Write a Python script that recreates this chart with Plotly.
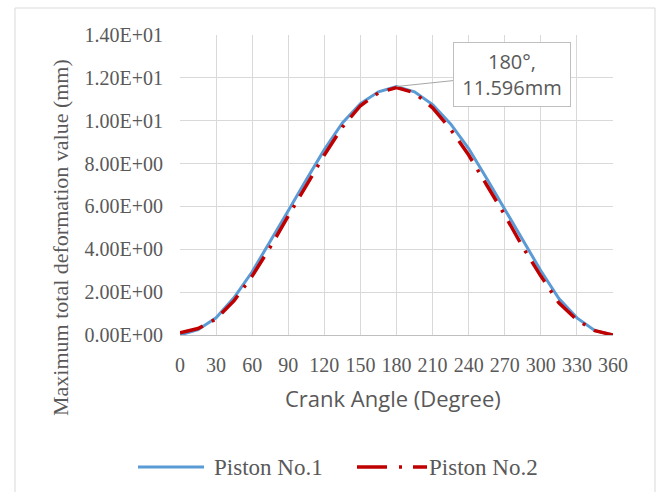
import plotly.graph_objects as go

crank_angle = [0, 15, 30, 45, 60, 75, 90, 105, 120, 135, 150, 165, 180,
               195, 210, 225, 240, 255, 270, 285, 300, 315, 330, 345, 360]
piston1 = [0.0, 0.25, 0.8, 1.75, 2.95, 4.35, 5.8, 7.25, 8.65, 9.9, 10.8, 11.35, 11.596,
           11.35, 10.75, 9.85, 8.7, 7.3, 5.85, 4.4, 3.0, 1.7, 0.8, 0.2, 0.0]
piston2 = [0.1, 0.3, 0.75, 1.6, 2.75, 4.1, 5.55, 7.0, 8.4, 9.7, 10.7, 11.3, 11.55,
           11.3, 10.6, 9.6, 8.4, 7.0, 5.6, 4.1, 2.75, 1.5, 0.7, 0.2, 0.0]

x_tickvals = [0, 30, 60, 90, 120, 150, 180, 210, 240, 270, 300, 330, 360]
y_tickvals = [0, 2, 4, 6, 8, 10, 12, 14]
y_ticktext = ["0.00E+00", "2.00E+00", "4.00E+00", "6.00E+00",
              "8.00E+00", "1.00E+01", "1.20E+01", "1.40E+01"]

series_names = ["Piston No.1", "Piston No.2"]
series_colors = ["#5B9BD5", "#C00000"]
series_dash = ["solid", "24px,10px,3px,10px"]

peak_angle = 180
peak_value = 11.596

serif = "Liberation Serif, Times New Roman, serif"
sans = "Open Sans, Liberation Sans, sans-serif"
gray_text = "#595959"

# plot area geometry in px (for paper-coordinate helpers)
L, R, T, B = 180, 45, 35, 157
PW, PH = 658 - L - R, 492 - T - B


def px(xp):
    return (xp - L) / PW


def py(yp):
    return (T + PH - yp) / PH


fig = go.Figure()
fig.add_trace(go.Scatter(
    x=crank_angle, y=piston1, mode="lines", name=series_names[0], showlegend=False,
    line=dict(color=series_colors[0], width=3)))
fig.add_trace(go.Scatter(
    x=crank_angle, y=piston2, mode="lines", name=series_names[1], showlegend=False,
    line=dict(color=series_colors[1], width=3.5, dash=series_dash[1])))

legend_y = py(467)
shapes = [
    dict(type="rect", xref="paper", yref="paper",
         x0=px(15), x1=px(655), y0=py(520), y1=py(8),
         line=dict(color="#d9d9d9", width=1), layer="below"),
    # legend keys
    dict(type="line", xref="paper", yref="paper", x0=px(138), x1=px(204),
         y0=legend_y, y1=legend_y, line=dict(color=series_colors[0], width=3)),
    dict(type="line", xref="paper", yref="paper", x0=px(357), x1=px(427),
         y0=legend_y, y1=legend_y,
         line=dict(color=series_colors[1], width=3.5,
                   dash="30px,12px,3px,11px,14px,100px")),
]

annotations = [
    dict(text="Maximum total deformation value (mm)", xref="paper", yref="paper",
         x=px(60), y=py(238), textangle=-90,
         showarrow=False, xanchor="center", yanchor="middle",
         font=dict(family=serif, size=22, color=gray_text)),
    dict(text="Crank Angle (Degree)", xref="paper", yref="paper",
         x=px(393), y=py(398),
         showarrow=False, xanchor="center", yanchor="middle",
         font=dict(family=sans, size=22, color=gray_text)),
    dict(text="180°,<br>11.596mm", x=peak_angle, y=peak_value,
         xref="x", yref="y", showarrow=True, arrowhead=0,
         arrowcolor="#a6a6a6", arrowwidth=1,
         ax=115, ay=-12, bgcolor="white", bordercolor="#bfbfbf",
         borderwidth=1, borderpad=2, width=112, height=59,
         font=dict(family=sans, size=20, color=gray_text)),
    dict(text=series_names[0], xref="paper", yref="paper", x=px(212), y=legend_y,
         showarrow=False, xanchor="left", yanchor="middle",
         font=dict(family=serif, size=23, color=gray_text)),
    dict(text=series_names[1], xref="paper", yref="paper", x=px(427), y=legend_y,
         showarrow=False, xanchor="left", yanchor="middle",
         font=dict(family=serif, size=23, color=gray_text)),
]

fig.update_layout(
    width=658, height=492,
    margin=dict(l=L, r=R, t=T, b=B),
    paper_bgcolor="white", plot_bgcolor="white",
    showlegend=False,
    xaxis=dict(range=[0, 360], tickvals=x_tickvals, showgrid=True,
               gridcolor="#d9d9d9", gridwidth=1, zeroline=False,
               showline=True, linecolor="#bfbfbf", linewidth=1,
               tickfont=dict(family=serif, size=20, color=gray_text),
               ticks="", ticklabelstandoff=12),
    yaxis=dict(range=[0, 14], tickvals=y_tickvals, ticktext=y_ticktext,
               showgrid=True, gridcolor="#d9d9d9", gridwidth=1, zeroline=False,
               showline=False,
               tickfont=dict(family=serif, size=20, color=gray_text),
               ticks="", ticklabelstandoff=16),
    shapes=shapes,
    annotations=annotations,
)

fig.write_html("out.html")
